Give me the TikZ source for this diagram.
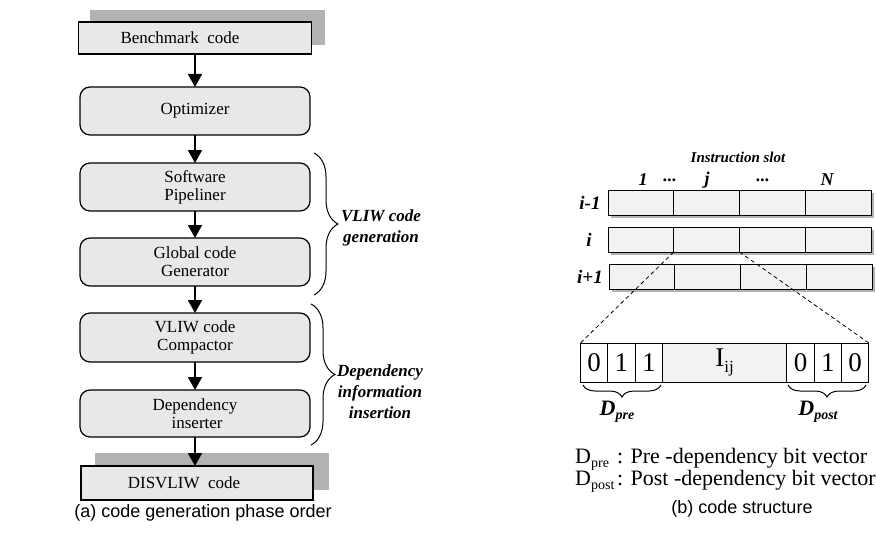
\documentclass[tikz,border=0pt]{standalone}
\usepackage{fontspec}
\setmainfont{Liberation Serif}
\newfontfamily\capfont{Liberation Sans}
\usetikzlibrary{decorations.pathreplacing,arrows.meta}
\definecolor{boxgray}{gray}{0.91}
\definecolor{shadowgray}{gray}{0.70}
\definecolor{cellgray}{gray}{0.95}
\begin{document}
\begin{tikzpicture}[x=1pt,y=-1pt,
  flatbox/.style={draw,line width=1.2pt,fill=boxgray,minimum width=232pt,minimum height=32pt,inner sep=0pt,outer sep=0pt,font=\fontsize{17}{18}\selectfont},
  roundbox/.style={draw,line width=1.2pt,fill=boxgray,rounded corners=10pt,minimum width=230pt,minimum height=48pt,inner sep=0pt,outer sep=0pt,align=center,font=\fontsize{17}{18}\selectfont},
  flow/.style={line width=1.8pt,-{Triangle[width=14pt,length=13pt]}},
  grpbrace/.style={decorate,decoration={brace,amplitude=24pt},line width=1pt},
  grplabel/.style={align=center,font=\fontsize{17}{21}\selectfont\bfseries\itshape},
  slotcell/.style={draw,line width=1pt,fill=cellgray,minimum width=65.75pt,minimum height=25pt,inner sep=0pt,outer sep=0pt,anchor=north west},
  bitcell/.style={draw,line width=1pt,fill=white,minimum width=27.3pt,minimum height=39pt,inner sep=0pt,outer sep=0pt,anchor=north west,font=\fontsize{27}{27}\selectfont},
  bitbrace/.style={decorate,decoration={brace,mirror,amplitude=12pt},line width=1pt},
  bilabel/.style={font=\fontsize{18}{18}\selectfont\bfseries\itshape},
  rowlabel/.style={font=\fontsize{19}{19}\selectfont\bfseries\itshape},
  dlabel/.style={font=\fontsize{22}{22}\selectfont\bfseries\itshape},
  legend/.style={anchor=base west,inner sep=0pt,font=\fontsize{22}{22}\selectfont},
  caption/.style={font=\capfont\fontsize{18}{18}\selectfont}
]
\useasboundingbox (0,0) rectangle (876,535);
% ---------- left: flow ----------
\fill[shadowgray] (90,10) rectangle (325,45);
\node[flatbox,minimum width=233pt] (bench) at (195,38) {Benchmark\ \ code\hspace*{30pt}};
\node[roundbox] (opt) at (195,111) {Optimizer};
\node[roundbox] (sw) at (195,187) {Software\\Pipeliner};
\node[roundbox] (gcg) at (195,262) {Global code\\Generator};
\node[roundbox,minimum height=49pt] (vcc) at (195,337.5) {VLIW code\\Compactor};
\node[roundbox,minimum height=47pt] (dep) at (195,413.5) {Dependency\\\ inserter};
\fill[shadowgray] (95,453) rectangle (329,490);
\node[flatbox,minimum height=34pt] (dis) at (197,483) {DISVLIW\ \ code\hspace*{26pt}};
\draw[flow] (bench) -- (opt);
\draw[flow] (opt) -- (sw);
\draw[flow] (sw) -- (gcg);
\draw[flow] (gcg) -- (vcc);
\draw[flow] (vcc) -- (dep);
\draw[flow] (dep.south) -- (dep.south |- dis.north);
\coordinate (b1top) at (314,153);
\coordinate (b1bot) at (314,295);
\coordinate (b2top) at (311,304);
\coordinate (b2bot) at (311,445);
\draw[grpbrace] (b1top) -- (b1bot);
\draw[grpbrace] (b2top) -- (b2bot);
\node[grplabel] (vliwlab) at (381,228) {VLIW code\\generation};
\node[grplabel] (deplab) at (380,392) {Dependency\\information\\insertion};
\node[caption] (capa) at (203,513) {(a) code generation phase order};
% ---------- right: code structure ----------
\node[font=\fontsize{15}{15}\selectfont\bfseries\itshape] (islot) at (738,157) {Instruction slot};
\node[bilabel] (c1) at (643,180) {1};
\node[bilabel] (c2) at (670,180) {...};
\node[bilabel] (c3) at (707,180) {j};
\node[bilabel] (c4) at (763,180) {...};
\node[bilabel] (c5) at (827,180) {N};
\foreach \r/\yy/\xx in {a/190/608, b/227/608, c/264/609}{
  \fill[shadowgray] (\xx+3,\yy+3) rectangle ++(263,25);
  \foreach \k in {1,...,4}
    \node[slotcell] (\r\k) at ({\xx+(\k-1)*65.75},\yy) {};
}
\node[rowlabel] (ra) at (590,203) {i-1};
\node[rowlabel] (rb) at (589,240) {i};
\node[rowlabel] (rc) at (590,277) {i+1};
% code word
\node[bitcell] (p1) at (580.5,343) {0};
\node[bitcell] (p2) at (607.8,343) {1};
\node[bitcell] (p3) at (635.1,343) {1};
\node[bitcell,fill=cellgray,minimum width=124.5pt] (ij) at (662.4,343) {I\raisebox{-0.45ex}{\fontsize{17}{17}\selectfont ij}};
\node[bitcell] (q1) at (786.9,343) {0};
\node[bitcell] (q2) at (814.2,343) {1};
\node[bitcell] (q3) at (841.5,343) {0};
\draw[dashed,line width=0.8pt,dash pattern=on 4pt off 3pt] (b2.south west) -- (p1.north west);
\draw[dashed,line width=0.8pt,dash pattern=on 4pt off 3pt] (b2.south east) -- (q3.north east);
\coordinate (bpl) at (583,385);
\coordinate (bpr) at (661,385);
\coordinate (bql) at (788,385);
\coordinate (bqr) at (866,385);
\draw[bitbrace] (bpl) -- (bpr);
\draw[bitbrace] (bql) -- (bqr);
\node[dlabel] (dpre) at (617,412) {D\raisebox{-0.45ex}{\fontsize{14}{14}\selectfont pre}};
\node[dlabel] (dpost) at (818,412) {D\raisebox{-0.45ex}{\fontsize{14}{14}\selectfont post}};
\node[legend] (l1a) at (575,463) {D\raisebox{-0.4ex}{\fontsize{14}{14}\selectfont pre}};
\node[legend] (l1b) at (617,463) {: Pre -dependency bit vector};
\node[legend] (l2a) at (575,485) {D\raisebox{-0.4ex}{\fontsize{14}{14}\selectfont post}};
\node[legend] (l2b) at (617,485) {: Post -dependency bit vector};
\node[caption] (capb) at (742,509) {(b) code structure};
\end{tikzpicture}
\end{document}
